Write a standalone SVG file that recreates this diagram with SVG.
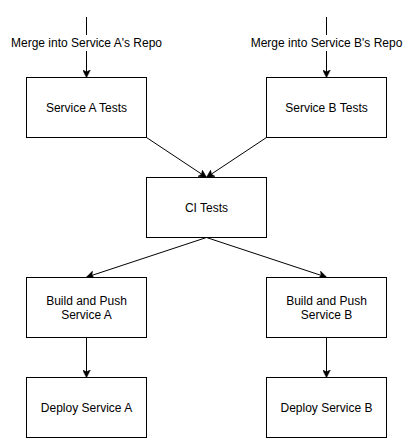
<svg xmlns="http://www.w3.org/2000/svg" width="411" height="448" viewBox="0 0 411 448">
<style>
.box{fill:#fff;stroke:#000;stroke-width:1}
.t{font-family:"Liberation Sans",Arial,sans-serif;font-size:12px;fill:#000;text-anchor:middle}
.c{fill:none;stroke:#000;stroke-width:1}
.lb{fill:#fff;stroke:none}
</style>
<defs>
<marker id="arr" viewBox="0 0 10 10" refX="9" refY="5" markerWidth="8" markerHeight="8" markerUnits="userSpaceOnUse" orient="auto">
<path d="M0,0 L10,5 L0,10 L2.5,5 z" fill="#000" stroke="#000" stroke-width="0.5"/>
</marker>
</defs>
<rect width="411" height="448" fill="#fff"/>
<g id="connectors">
<path class="c" d="M86.5,17 L86.5,77" marker-end="url(#arr)"/>
<path class="c" d="M326.5,17 L326.5,77" marker-end="url(#arr)"/>
<path class="c" d="M146.5,137.5 L206,177" marker-end="url(#arr)"/>
<path class="c" d="M266.5,137.5 L207,177" marker-end="url(#arr)"/>
<path class="c" d="M206.5,237.5 L87,277" marker-end="url(#arr)"/>
<path class="c" d="M206.5,237.5 L326,277" marker-end="url(#arr)"/>
<path class="c" d="M86.5,337.5 L86.5,377" marker-end="url(#arr)"/>
<path class="c" d="M326.5,337.5 L326.5,377" marker-end="url(#arr)"/>
<g id="label-a">
<rect class="lb" x="10" y="35" width="153" height="16"/>
<text class="t" x="86.5" y="47">Merge into Service A's Repo</text>
</g>
<g id="label-b">
<rect class="lb" x="250" y="35" width="153" height="16"/>
<text class="t" x="326.5" y="47">Merge into Service B's Repo</text>
</g>
</g>
<g id="service-a-tests">
<rect class="box" x="26.5" y="77.5" width="120" height="60"/>
<text class="t" x="86.5" y="111.5">Service A Tests</text>
</g>
<g id="service-b-tests">
<rect class="box" x="266.5" y="77.5" width="120" height="60"/>
<text class="t" x="326.5" y="111.5">Service B Tests</text>
</g>
<g id="ci-tests">
<rect class="box" x="146.5" y="177.5" width="120" height="60"/>
<text class="t" x="206.5" y="211.5">CI Tests</text>
</g>
<g id="build-a">
<rect class="box" x="26.5" y="277.5" width="120" height="60"/>
<text class="t" x="86.5" y="304.5">Build and Push</text>
<text class="t" x="86.5" y="318.5">Service A</text>
</g>
<g id="build-b">
<rect class="box" x="266.5" y="277.5" width="120" height="60"/>
<text class="t" x="326.5" y="304.5">Build and Push</text>
<text class="t" x="326.5" y="318.5">Service B</text>
</g>
<g id="deploy-a">
<rect class="box" x="26.5" y="377.5" width="120" height="60"/>
<text class="t" x="86.5" y="411.5">Deploy Service A</text>
</g>
<g id="deploy-b">
<rect class="box" x="266.5" y="377.5" width="120" height="60"/>
<text class="t" x="326.5" y="411.5">Deploy Service B</text>
</g>
</svg>
